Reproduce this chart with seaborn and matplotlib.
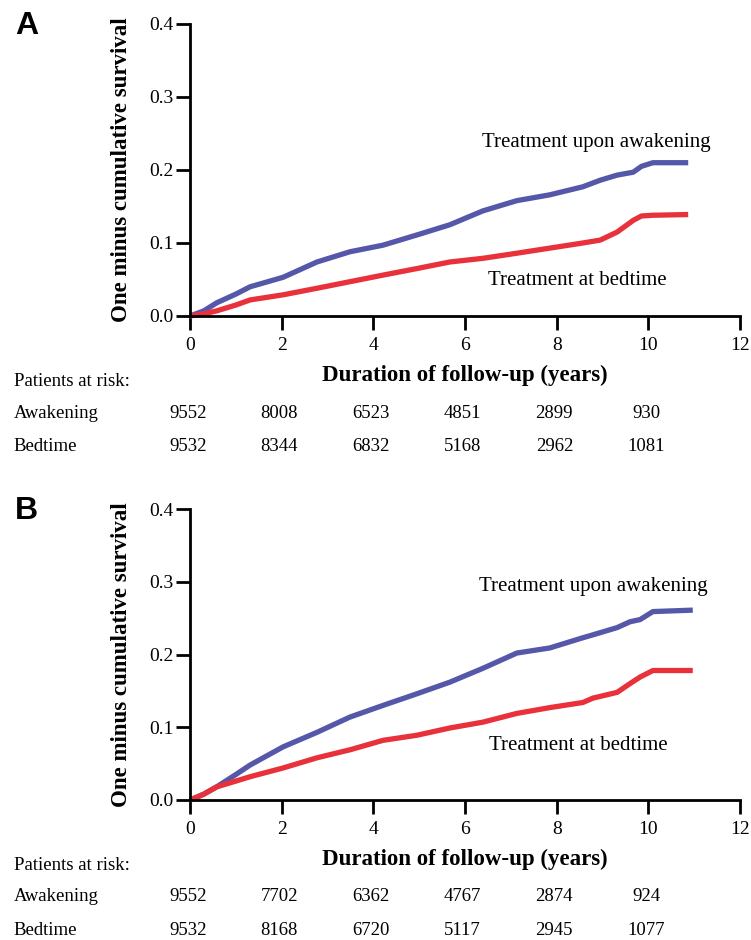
import matplotlib
matplotlib.use("Agg")
import matplotlib.pyplot as plt
import matplotlib.transforms as mtransforms
import seaborn as sns
import numpy as np
import pandas as pd

# ---- data ----
years_a = [0, 0.3, 0.58, 1.0, 1.31, 2.03, 2.77, 3.49, 4.21, 4.95, 5.67, 6.39,
           7.13, 7.85, 8.57, 8.95, 9.32, 9.67, 9.85, 10.1, 10.87]
awak_a = [0, 0.007, 0.018, 0.030, 0.040, 0.053, 0.074, 0.088, 0.097, 0.111, 0.125,
          0.144, 0.158, 0.166, 0.177, 0.186, 0.193, 0.197, 0.205, 0.210, 0.210]
bed_a = [0, 0.003, 0.007, 0.015, 0.022, 0.029, 0.038, 0.047, 0.056, 0.065, 0.074,
         0.079, 0.086, 0.093, 0.100, 0.104, 0.115, 0.131, 0.137, 0.138, 0.139]

years_b = [0, 0.3, 0.58, 1.0, 1.31, 2.03, 2.77, 3.49, 4.21, 4.95, 5.67, 6.39,
           7.13, 7.85, 8.57, 8.79, 9.32, 9.6, 9.82, 10.1, 10.97]
awak_b = [0, 0.008, 0.018, 0.035, 0.048, 0.073, 0.093, 0.114, 0.130, 0.146, 0.162,
          0.181, 0.202, 0.209, 0.223, 0.227, 0.237, 0.245, 0.248, 0.259, 0.261]
bed_b = [0, 0.008, 0.018, 0.026, 0.032, 0.044, 0.058, 0.069, 0.082, 0.089, 0.099,
         0.107, 0.119, 0.127, 0.134, 0.140, 0.148, 0.160, 0.169, 0.178, 0.178]

risk_years = [0, 2, 4, 6, 8, 10]
risk_awak_a = [9552, 8008, 6523, 4851, 2899, 930]
risk_bed_a = [9532, 8344, 6832, 5168, 2962, 1081]
risk_awak_b = [9552, 7702, 6362, 4767, 2874, 924]
risk_bed_b = [9532, 8168, 6720, 5117, 2945, 1077]

groups = ["Awakening", "Bedtime"]
colors = {"Awakening": "#5558a9", "Bedtime": "#e8313b"}

sns.set_style("ticks")
plt.rcParams['font.family'] = ['Liberation Serif', 'DejaVu Serif']
plt.rcParams['text.color'] = 'black'
plt.rcParams['axes.labelcolor'] = 'black'
plt.rcParams['xtick.color'] = 'black'
plt.rcParams['ytick.color'] = 'black'
plt.rcParams['axes.edgecolor'] = 'black'
plt.rcParams['axes.linewidth'] = 2.0
plt.rcParams['xtick.major.width'] = 2.0
plt.rcParams['ytick.major.width'] = 2.0


def panel(fig, rect, letter, years, awak, bed, risk_awak, risk_bed,
          lab_awak, lab_bed):
    ax = fig.add_axes(rect)
    df = pd.DataFrame({
        "years": years + years,
        "value": awak + bed,
        "group": ["Awakening"] * len(years) + ["Bedtime"] * len(years),
    })
    sns.lineplot(data=df, x="years", y="value", hue="group", palette=colors,
                 estimator=None, sort=False, linewidth=3.8, legend=False,
                 ax=ax, clip_on=False, solid_capstyle="butt")
    ax.set_xlim(0, 12)
    ax.set_ylim(0, 0.4)
    ax.set_xticks(range(0, 13, 2))
    ax.set_yticks([0.0, 0.1, 0.2, 0.3, 0.4])
    ax.set_yticklabels([f"{v:.1f}" for v in [0.0, 0.1, 0.2, 0.3, 0.4]])
    ax.tick_params(axis="x", length=10, pad=5, labelsize=14)
    ax.tick_params(axis="y", length=10, pad=2, labelsize=14)
    sns.despine(ax=ax)

    ax.set_xlabel("Duration of follow-up (years)", fontsize=16.5,
                  fontweight="bold")
    ax.xaxis.label.set_va("center")
    ax.xaxis.set_label_coords(0.5, -0.203)
    ax.set_ylabel("One minus cumulative survival", fontsize=16.5,
                  fontweight="bold")
    ax.yaxis.label.set_va("center")
    ax.yaxis.set_label_coords(-0.124, 0.5)

    ax.text(lab_awak[0], lab_awak[1], "Treatment upon awakening",
            fontsize=15, ha="center", va="center")
    ax.text(lab_bed[0], lab_bed[1], "Treatment at bedtime",
            fontsize=15, ha="center", va="center")

    # numbers at risk
    tr_lab = mtransforms.blended_transform_factory(fig.transFigure, ax.transAxes)
    tr_num = mtransforms.blended_transform_factory(ax.transData, ax.transAxes)
    rows = [("Patients at risk:", None, -0.226),
            ("Awakening", risk_awak, -0.333),
            ("Bedtime", risk_bed, -0.447)]
    for name, vals, yy in rows:
        ax.text(0.018, yy, name, transform=tr_lab, fontsize=13.5,
                ha="left", va="center")
        if vals is not None:
            for x, v in zip(risk_years, vals):
                ax.text(x - 0.05, yy, str(v), transform=tr_num, fontsize=13.5,
                        ha="center", va="center")

    fig.text(0.020, rect[1] + rect[3] - 0.002, letter, fontsize=23,
             fontweight="bold", family="Liberation Sans", ha="left",
             va="center")
    return ax


fig = plt.figure(figsize=(7.51, 9.40), dpi=100)
panel(fig, [190 / 751, 1 - 316 / 940, 550 / 751, 292 / 940], "A",
      years_a, awak_a, bed_a, risk_awak_a, risk_bed_a,
      (8.86, 0.238), (8.44, 0.049))
panel(fig, [190 / 751, 1 - 800 / 940, 550 / 751, 291 / 940], "B",
      years_b, awak_b, bed_b, risk_awak_b, risk_bed_b,
      (8.79, 0.293), (8.47, 0.0755))

fig.savefig("out.png", dpi=100)
